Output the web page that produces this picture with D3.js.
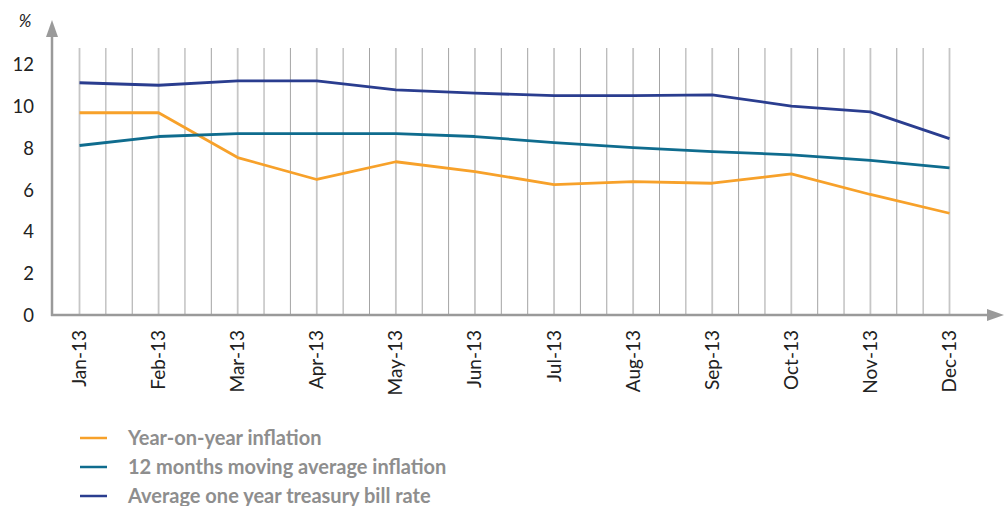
<!DOCTYPE html>
<html>
<head>
<meta charset="utf-8">
<script src="https://cdn.jsdelivr.net/npm/d3@7"></script>
<style>
  html, body { margin: 0; padding: 0; background: #fff; }
  svg { display: block; font-family: Lato, "Open Sans", sans-serif; }
</style>
</head>
<body>
<svg id="chart" width="1004" height="506"></svg>
<script>
const months = ['Jan-13', 'Feb-13', 'Mar-13', 'Apr-13', 'May-13', 'Jun-13',
  'Jul-13', 'Aug-13', 'Sep-13', 'Oct-13', 'Nov-13', 'Dec-13'];
const yoyInflation = [9.7, 9.7, 7.55, 6.5, 7.35, 6.88, 6.25, 6.4, 6.32, 6.77, 5.78, 4.88];
const movingAverage = [8.13, 8.56, 8.7, 8.7, 8.7, 8.56, 8.27, 8.03, 7.84, 7.68, 7.42, 7.06];
const treasuryRate = [11.14, 11.02, 11.23, 11.23, 10.8, 10.64, 10.52, 10.52, 10.56, 10.02, 9.74, 8.46];
const yTicks = [0, 2, 4, 6, 8, 10, 12];

const series = [
  { name: 'Year-on-year inflation', values: yoyInflation, color: '#f7a12a' },
  { name: '12 months moving average inflation', values: movingAverage, color: '#0f6c8e' },
  { name: 'Average one year treasury bill rate', values: treasuryRate, color: '#2a3d8f' }
];

const svg = d3.select('#chart');
const axisColor = '#9a9a9a';

const x = d3.scaleLinear().domain([0, months.length - 1]).range([79.5, 949.5]);
const y = d3.scaleLinear().domain([0, 12]).range([315, 64.8]);

// vertical grid, three lines per month
const gridSteps = d3.range(0, (months.length - 1) * 3 + 1).map((i) => i / 3);
svg.append('g')
  .selectAll('line')
  .data(gridSteps)
  .join('line')
  .attr('x1', (d) => x(d))
  .attr('x2', (d) => x(d))
  .attr('y1', 48)
  .attr('y2', 315)
  .attr('stroke', (d, i) => (i % 3 === 0 ? '#c6c6c6' : '#a4a4a4'))
  .attr('stroke-width', (d, i) => (i % 3 === 0 ? 1.8 : 1));

// axes with arrow heads
const axes = svg.append('g');
axes.append('line')
  .attr('x1', 52).attr('x2', 52).attr('y1', 316).attr('y2', 30)
  .attr('stroke', axisColor).attr('stroke-width', 2.5);
axes.append('path')
  .attr('d', 'M52,20 L46,37 L58,37 Z')
  .attr('fill', axisColor);
axes.append('line')
  .attr('x1', 51).attr('x2', 992).attr('y1', 315).attr('y2', 315)
  .attr('stroke', axisColor).attr('stroke-width', 2.5);
axes.append('path')
  .attr('d', 'M1004,315 L987,309 L987,321 Z')
  .attr('fill', axisColor);

svg.append('text')
  .attr('x', 25).attr('y', 27)
  .attr('text-anchor', 'middle')
  .attr('font-size', 17)
  .attr('font-style', 'italic')
  .attr('fill', '#222')
  .text('%');

svg.append('g')
  .selectAll('text')
  .data(yTicks)
  .join('text')
  .attr('x', 34)
  .attr('y', (d) => y(d))
  .attr('dy', '0.36em')
  .attr('text-anchor', 'end')
  .attr('font-size', 18.5)
  .attr('fill', '#222')
  .text((d) => d);

svg.append('g')
  .selectAll('text')
  .data(months)
  .join('text')
  .attr('transform', (d, i) => `translate(${x(i) + 6.5},330) rotate(-90)`)
  .attr('text-anchor', 'end')
  .attr('font-size', 19)
  .attr('fill', '#222')
  .text((d) => d);

const line = d3.line()
  .x((d, i) => x(i))
  .y((d) => y(d));

svg.append('g')
  .selectAll('path')
  .data(series)
  .join('path')
  .attr('d', (d) => line(d.values))
  .attr('fill', 'none')
  .attr('stroke', (d) => d.color)
  .attr('stroke-width', 2.8)
  .attr('stroke-linejoin', 'round');

const legend = svg.append('g')
  .selectAll('g')
  .data(series)
  .join('g')
  .attr('transform', (d, i) => `translate(0,${438 + i * 29})`);

legend.append('line')
  .attr('x1', 80).attr('x2', 107)
  .attr('stroke', (d) => d.color)
  .attr('stroke-width', 2.5);

legend.append('text')
  .attr('x', 128)
  .attr('dy', '0.36em')
  .attr('font-size', 20)
  .attr('font-weight', 'bold')
  .attr('fill', '#8e8e8e')
  .text((d) => d.name);
</script>
</body>
</html>
